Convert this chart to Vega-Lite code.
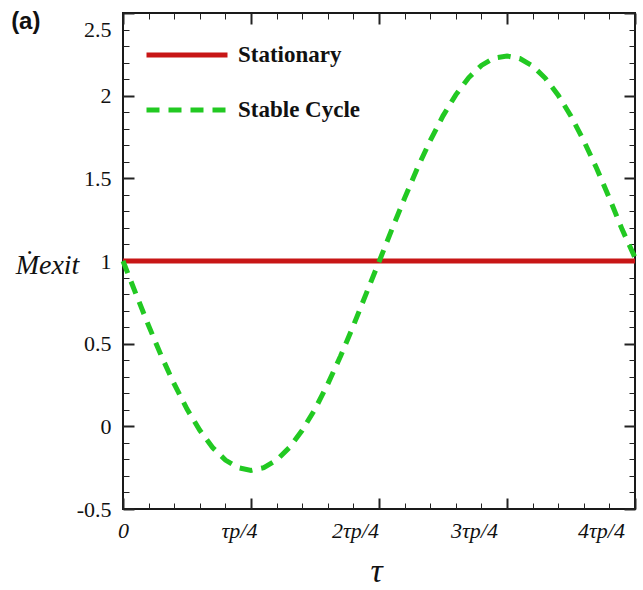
{
  "$schema": "https://vega.github.io/schema/vega-lite/v6.json",
  "width": 512,
  "height": 496,
  "autosize": {"type": "none"},
  "padding": {"left": 123, "top": 13, "right": 8, "bottom": 81},
  "background": "white",
  "title": {
    "text": "(a)",
    "orient": "top",
    "anchor": "start",
    "frame": "bounds",
    "baseline": "top",
    "offset": 0,
    "dx": -4,
    "dy": 22,
    "font": "Liberation Sans",
    "fontWeight": "bold",
    "fontSize": 24,
    "color": "#111111"
  },
  "config": {
    "view": {"stroke": "#1a1a1a", "strokeWidth": 2},
    "legend": {
      "orient": "none",
      "legendX": 21,
      "legendY": -1,
      "padding": 0,
      "title": null,
      "symbolType": "stroke",
      "symbolSize": 6561,
      "symbolStrokeWidth": 5,
      "rowPadding": -24,
      "labelOffset": 8,
      "labelFont": "Liberation Serif",
      "labelFontWeight": "bold",
      "labelFontSize": 23,
      "labelColor": "#111111",
      "labelLimit": 300
    }
  },
  "data": {
    "values": [
      {"series": "Stationary", "t": 0, "m": 1},
      {"series": "Stationary", "t": 4, "m": 1},
      {"series": "Stable Cycle", "t": 0.0, "m": 1.0},
      {"series": "Stable Cycle", "t": 0.1, "m": 0.803},
      {"series": "Stable Cycle", "t": 0.2, "m": 0.609},
      {"series": "Stable Cycle", "t": 0.3, "m": 0.425},
      {"series": "Stable Cycle", "t": 0.4, "m": 0.256},
      {"series": "Stable Cycle", "t": 0.5, "m": 0.104},
      {"series": "Stable Cycle", "t": 0.6, "m": -0.024},
      {"series": "Stable Cycle", "t": 0.7, "m": -0.128},
      {"series": "Stable Cycle", "t": 0.8, "m": -0.204},
      {"series": "Stable Cycle", "t": 0.9, "m": -0.25},
      {"series": "Stable Cycle", "t": 1.0, "m": -0.267},
      {"series": "Stable Cycle", "t": 1.1, "m": -0.25},
      {"series": "Stable Cycle", "t": 1.2, "m": -0.204},
      {"series": "Stable Cycle", "t": 1.3, "m": -0.128},
      {"series": "Stable Cycle", "t": 1.4, "m": -0.024},
      {"series": "Stable Cycle", "t": 1.5, "m": 0.104},
      {"series": "Stable Cycle", "t": 1.6, "m": 0.256},
      {"series": "Stable Cycle", "t": 1.7, "m": 0.425},
      {"series": "Stable Cycle", "t": 1.8, "m": 0.609},
      {"series": "Stable Cycle", "t": 1.9, "m": 0.803},
      {"series": "Stable Cycle", "t": 2.0, "m": 0.995},
      {"series": "Stable Cycle", "t": 2.1, "m": 1.19},
      {"series": "Stable Cycle", "t": 2.2, "m": 1.38},
      {"series": "Stable Cycle", "t": 2.3, "m": 1.562},
      {"series": "Stable Cycle", "t": 2.4, "m": 1.728},
      {"series": "Stable Cycle", "t": 2.5, "m": 1.878},
      {"series": "Stable Cycle", "t": 2.6, "m": 2.005},
      {"series": "Stable Cycle", "t": 2.7, "m": 2.108},
      {"series": "Stable Cycle", "t": 2.8, "m": 2.183},
      {"series": "Stable Cycle", "t": 2.9, "m": 2.228},
      {"series": "Stable Cycle", "t": 3.0, "m": 2.24},
      {"series": "Stable Cycle", "t": 3.1, "m": 2.225},
      {"series": "Stable Cycle", "t": 3.2, "m": 2.18},
      {"series": "Stable Cycle", "t": 3.3, "m": 2.105},
      {"series": "Stable Cycle", "t": 3.4, "m": 2.003},
      {"series": "Stable Cycle", "t": 3.5, "m": 1.876},
      {"series": "Stable Cycle", "t": 3.6, "m": 1.727},
      {"series": "Stable Cycle", "t": 3.7, "m": 1.561},
      {"series": "Stable Cycle", "t": 3.8, "m": 1.38},
      {"series": "Stable Cycle", "t": 3.9, "m": 1.19},
      {"series": "Stable Cycle", "t": 4.0, "m": 1.02}
    ]
  },
  "encoding": {
    "color": {
      "field": "series",
      "type": "nominal",
      "scale": {"domain": ["Stationary", "Stable Cycle"], "range": ["#c81616", "#22c922"]}
    },
    "strokeDash": {
      "field": "series",
      "type": "nominal",
      "scale": {"domain": ["Stationary", "Stable Cycle"], "range": [[1, 0], [13, 9]]}
    }
  },
  "layer": [
    {
      "transform": [{"filter": "datum.series === 'Stationary'"}],
      "mark": {"type": "line", "strokeWidth": 5},
      "encoding": {
        "x": {
          "field": "t",
          "type": "quantitative",
          "scale": {"domain": [0, 4], "nice": false},
          "axis": {
            "orient": "bottom",
            "values": [0, 0.2, 0.4, 0.6, 0.8, 1, 1.2, 1.4, 1.6, 1.8, 2, 2.2, 2.4, 2.6, 2.8, 3, 3.2, 3.4, 3.6, 3.8, 4],
            "domain": false,
            "grid": false,
            "tickColor": "#222222",
            "tickSize": {"expr": "abs(datum.value - round(datum.value)) < 1e-6 ? -11 : -6"},
            "tickWidth": {"expr": "abs(datum.value - round(datum.value)) < 1e-6 ? 2 : 1"},
            "labelExpr": "datum.value == 0 ? '0' : datum.value == 1 ? 'τp/4' : (datum.value == 2 || datum.value == 3 || datum.value == 4) ? datum.value + 'τp/4' : ''",
            "labelOffset": {"expr": "datum.value == 1 ? -12 : datum.value == 2 ? -24 : datum.value == 3 ? -33 : datum.value == 4 ? -34 : 0"},
            "labelPadding": 22,
            "labelFlush": false,
            "labelOverlap": false,
            "labelBound": false,
            "labelFont": "Liberation Serif",
            "labelFontStyle": "italic",
            "labelFontSize": 22,
            "labelColor": "#111111",
            "title": "τ",
            "titleFont": "Liberation Serif",
            "titleFontStyle": "italic",
            "titleFontWeight": "normal",
            "titleFontSize": 34,
            "titleColor": "#111111",
            "titleX": 253,
            "titleY": 62,
            "titleAlign": "center",
            "titleBaseline": "middle"
          }
        },
        "y": {
          "field": "m",
          "type": "quantitative",
          "scale": {"domain": [-0.5, 2.5], "nice": false, "zero": false},
          "axis": {
            "orient": "left",
            "values": [-0.5, -0.4, -0.3, -0.2, -0.1, 0, 0.1, 0.2, 0.3, 0.4, 0.5, 0.6, 0.7, 0.8, 0.9, 1, 1.1, 1.2, 1.3, 1.4, 1.5, 1.6, 1.7, 1.8, 1.9, 2, 2.1, 2.2, 2.3, 2.4, 2.5],
            "domain": false,
            "grid": false,
            "tickColor": "#222222",
            "tickSize": {"expr": "abs(datum.value * 2 - round(datum.value * 2)) < 1e-6 ? -11 : -6"},
            "tickWidth": {"expr": "abs(datum.value * 2 - round(datum.value * 2)) < 1e-6 ? 2 : 1"},
            "labelExpr": "abs(datum.value * 2 - round(datum.value * 2)) < 1e-6 ? '' + datum.value : ''",
            "labelOffset": {"expr": "datum.value == 2.5 ? 16 : 0"},
            "labelPadding": 23,
            "labelFlush": false,
            "labelOverlap": false,
            "labelBound": false,
            "labelFont": "Liberation Serif",
            "labelFontSize": 22,
            "labelColor": "#111111",
            "title": "Ṁexit",
            "titleFont": "Liberation Serif",
            "titleFontStyle": "italic",
            "titleFontWeight": "normal",
            "titleFontSize": 28,
            "titleColor": "#111111",
            "titleAngle": 0,
            "titleX": -76,
            "titleY": 252,
            "titleAlign": "center",
            "titleBaseline": "middle"
          }
        }
      }
    },
    {
      "transform": [{"filter": "datum.series === 'Stable Cycle'"}],
      "mark": {"type": "line", "strokeWidth": 5},
      "encoding": {
        "x": {
          "field": "t",
          "type": "quantitative",
          "axis": {
            "orient": "top",
            "values": [0, 0.2, 0.4, 0.6, 0.8, 1, 1.2, 1.4, 1.6, 1.8, 2, 2.2, 2.4, 2.6, 2.8, 3, 3.2, 3.4, 3.6, 3.8, 4],
            "domain": false,
            "grid": false,
            "labels": false,
            "title": null,
            "tickColor": "#222222",
            "tickSize": {"expr": "abs(datum.value - round(datum.value)) < 1e-6 ? -11 : -6"},
            "tickWidth": {"expr": "abs(datum.value - round(datum.value)) < 1e-6 ? 2 : 1"}
          }
        },
        "y": {
          "field": "m",
          "type": "quantitative",
          "axis": {
            "orient": "right",
            "values": [-0.5, -0.4, -0.3, -0.2, -0.1, 0, 0.1, 0.2, 0.3, 0.4, 0.5, 0.6, 0.7, 0.8, 0.9, 1, 1.1, 1.2, 1.3, 1.4, 1.5, 1.6, 1.7, 1.8, 1.9, 2, 2.1, 2.2, 2.3, 2.4, 2.5],
            "domain": false,
            "grid": false,
            "labels": false,
            "title": null,
            "tickColor": "#222222",
            "tickSize": {"expr": "abs(datum.value * 2 - round(datum.value * 2)) < 1e-6 ? -11 : -6"},
            "tickWidth": {"expr": "abs(datum.value * 2 - round(datum.value * 2)) < 1e-6 ? 2 : 1"}
          }
        }
      }
    }
  ],
  "resolve": {"axis": {"x": "independent", "y": "independent"}}
}
